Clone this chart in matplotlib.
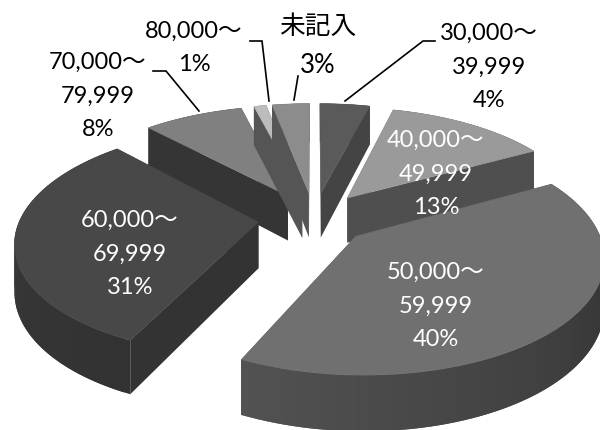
import numpy as np
import matplotlib
matplotlib.use('Agg')
import matplotlib.pyplot as plt
from matplotlib.patches import Polygon

plt.rcParams['font.family'] = ['Lato', 'Noto Sans CJK JP', 'DejaVu Sans']

# income band shares, clockwise from twelve o'clock
labels = ['30,000～\n39,999\n4%', '40,000～\n49,999\n13%', '50,000～\n59,999\n40%',
          '60,000～\n69,999\n31%', '70,000～\n79,999\n8%', '80,000～\n1%', '未記入\n3%']
shares = [4, 13, 40, 31, 8, 1, 3]

top_colors = ['#5a5a5a', '#9a9a9a', '#707070', '#484848', '#808080', '#bcbcbc', '#8c8c8c']
cut_colors = ['#444444', '#4f4f4f', '#3a3a3a', '#333333', '#353535', '#555555', '#555555']
# outer wall shade at the start and end of each arc
wall_colors = [('#444444', '#444444'), ('#4f4f4f', '#4f4f4f'), ('#2a2a2a', '#525252'),
               ('#323232', '#3c3c3c'), ('#353535', '#353535'), ('#555555', '#555555'),
               ('#555555', '#555555')]
label_xy = [(489, 67), (436, 174), (436, 306), (130, 254), (98, 96), (194, 48), (318, 46)]
label_colors = ['black', 'white', 'white', 'white', 'black', 'black', 'black']
label_sizes = [17, 17, 17, 17, 17, 17, 18.5]

# leader lines in figure pixels
leaders = [([435, 423, 345], [41, 41, 101]),
           ([250, 262, 269], [41, 41, 101]),
           ([298, 294], [76, 100]),
           ([153, 166, 199], [71, 71, 111])]

# camera: centre, focal length, vertical squash, perspective strength, wall height
cx, cy, f, squash, persp, height = 314, 218, 238, 0.465, 0.157, 46
explode = 0.235
# paint back to front
draw_order = [4, 5, 6, 0, 1, 3, 2]


def project(x, y, z=0.0):
    w = 1 + persp * y
    return cx + f * x / w, cy - f * squash * y / w + z * height / w


def slice_outline(a0, a1, n=80):
    mid = (a0 + a1) / 2
    ox, oy = explode * np.sin(mid), explode * np.cos(mid)
    t = np.linspace(a0, a1, n)
    return ox + np.sin(t), oy + np.cos(t), ox, oy


def draw_slice(ax, a0, a1, top, cut, wall):
    xs, ys, ox, oy = slice_outline(a0, a1)
    polys = []

    # flat cut faces from the apex out to both arc ends
    for x1, y1 in [(xs[0], ys[0]), (xs[-1], ys[-1])]:
        pts = [project(ox, oy), project(x1, y1), project(x1, y1, 1), project(ox, oy, 1)]
        polys.append((np.mean([p[1] for p in pts]), pts, cut))

    # outer wall, each strip runs under the next one so no seams show
    c0, c1 = np.array(matplotlib.colors.to_rgb(wall[0])), np.array(matplotlib.colors.to_rgb(wall[1]))
    strip = []
    last = len(xs) - 1
    for i in range(last):
        j = min(i + 2, last)
        pts = [project(xs[i], ys[i]), project(xs[j], ys[j]),
               project(xs[j], ys[j], 1), project(xs[i], ys[i], 1)]
        strip.append((pts, c0 + (c1 - c0) * i / (last - 1)))
    wall_y = np.mean([p[1] for s in strip for p in s[0]])

    layers = [(y, [(pts, col)]) for y, pts, col in polys] + [(wall_y, strip)]
    for _, faces in sorted(layers, key=lambda l: l[0]):
        for pts, col in faces:
            ax.add_patch(Polygon(pts, closed=True, facecolor=col, edgecolor='none'))

    outline = [project(ox, oy)] + [project(x, y) for x, y in zip(xs, ys)]
    ax.add_patch(Polygon(outline, closed=True, facecolor=top, edgecolor=top, lw=0.4))


fig = plt.figure(figsize=(6, 4.3), dpi=100)
ax = fig.add_axes([0, 0, 1, 1])
ax.set_xlim(0, 600)
ax.set_ylim(430, 0)
ax.axis('off')

edges = np.cumsum([0] + shares) / sum(shares) * 2 * np.pi
for i in draw_order:
    draw_slice(ax, edges[i], edges[i + 1], top_colors[i], cut_colors[i], wall_colors[i])

for lx, ly in leaders:
    ax.plot(lx, ly, color='black', lw=1.2, solid_joinstyle='miter')

for text, (x, y), col, size in zip(labels, label_xy, label_colors, label_sizes):
    ax.text(x, y, text, ha='center', va='center', color=col, fontsize=size, linespacing=1.72)

fig.savefig('out.png', dpi=100)
